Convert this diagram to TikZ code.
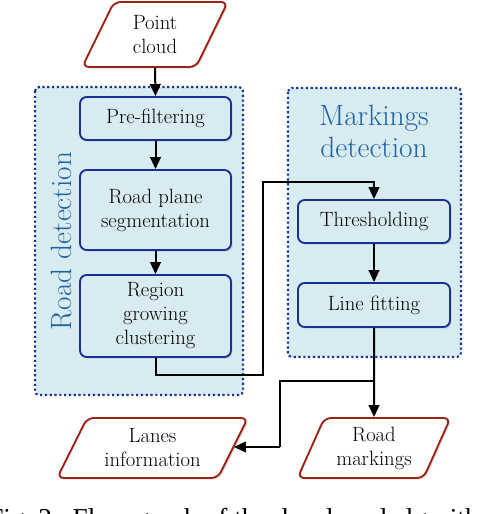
\documentclass[tikz,border=0pt]{standalone}
\usepackage{fontspec}
\newfontfamily\capfont{Liberation Serif}
\usetikzlibrary{shapes.geometric,arrows.meta,shadows}
\definecolor{grpfill}{HTML}{D8EBF1}
\definecolor{boxline}{HTML}{1A2F95}
\definecolor{ioline}{HTML}{9E2214}
\definecolor{grptext}{HTML}{1E63A0}
\tikzset{
  stepbox/.style={draw=boxline, line width=1.4pt, rounded corners=5pt, fill=grpfill,
    align=center, font=\fontsize{15.5}{18}\selectfont, inner sep=2pt,
    drop shadow={opacity=0.25, shadow xshift=1.2pt, shadow yshift=-1.2pt}},
  iobox/.style={draw=ioline, line width=1.4pt, rounded corners=5pt, fill=white,
    trapezium, trapezium left angle=#1, trapezium right angle=180-#1, trapezium stretches=true,
    align=center, font=\fontsize{15.5}{18}\selectfont, inner sep=1pt,
    drop shadow={opacity=0.25, shadow xshift=1.2pt, shadow yshift=-1.2pt}},
  group/.style={draw=boxline, line width=1.6pt, dotted, fill=grpfill, rounded corners=3pt},
  grplabel/.style={text=grptext, font=\fontsize{22}{24}\selectfont, align=center},
  flow/.style={line width=1.5pt, -{Triangle[length=9pt,width=8pt]}},
  flowline/.style={line width=1.5pt},
}
\begin{document}
\begin{tikzpicture}[x=0.75pt,y=-0.75pt]
\useasboundingbox (0,0) rectangle (498,514);
% groups
\draw[group] (35,87) rectangle (243,395);
\draw[group] (288,88) rectangle (461,357);
\node[grplabel, rotate=90] (roadlbl) at (62,241) {Road detection};
\node[grplabel] (marklbl) at (374,131) {Markings\\detection};
% nodes
\node[iobox=66, minimum width=109.5pt, minimum height=48.75pt] (pc) at (155,34.5) {Point\\cloud};
\node[stepbox, minimum width=113.25pt, minimum height=32.25pt] (pre) at (155.5,118.5) {Pre-filtering};
\node[stepbox, minimum width=113.25pt, minimum height=60pt] (seg) at (155.5,210) {Road plane\\segmentation};
\node[stepbox, minimum width=113.25pt, minimum height=61.5pt] (reg) at (155.5,316) {Region\\growing\\clustering};
\node[stepbox, minimum width=114pt, minimum height=32.25pt] (thr) at (374,221.5) {Thresholding};
\node[stepbox, minimum width=114pt, minimum height=33pt] (fit) at (374,305) {Line fitting};
\node[iobox=61, minimum width=143.25pt, minimum height=45pt] (lanes) at (152.5,448) {Lanes\\information};
\node[iobox=65, minimum width=115.5pt, minimum height=45pt] (marks) at (374,448) {Road\\markings};
% connectors
\coordinate (b1) at (374,381);
\draw[flow] (pc.south) -- (pre.north);
\draw[flow] (pre.south) -- (seg.north);
\draw[flow] (seg.south) -- (reg.north);
\draw[flow] (reg.south) |- (263,375) |- (374,182) -- (thr.north);
\draw[flow] (thr.south) -- (fit.north);
\draw[flow] (fit.south) -- (marks.north);
\draw[flowline] (b1) -| (280,447);
\draw[flow] (280,447) -- (lanes.east |- 0,447);
% caption (cut off at the lower edge, as in the reference)
\node[anchor=base west, inner sep=0pt, font=\capfont\fontsize{20.5}{24}\selectfont] (cap) at (-12,527) {Fig.~2.~~Flow graph of the developed algorithm.};
\end{tikzpicture}
\end{document}
